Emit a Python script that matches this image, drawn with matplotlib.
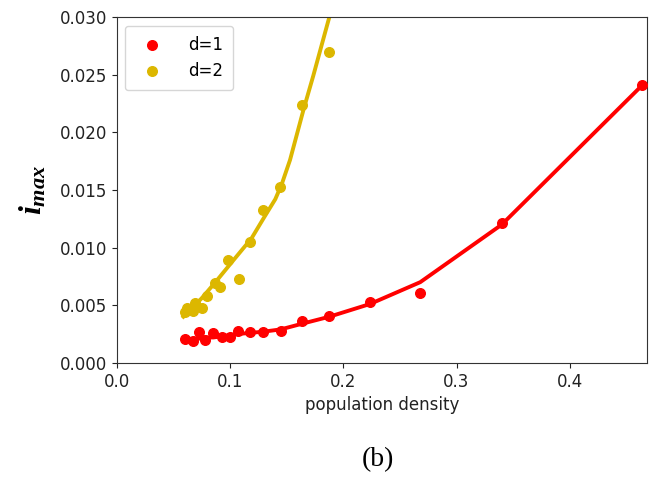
import matplotlib.pyplot as plt

# measured points, d=1
d1_x = [0.0604, 0.0677, 0.073, 0.078, 0.0854, 0.0928, 0.100, 0.107, 0.118, 0.1295,
        0.1448, 0.164, 0.1877, 0.2235, 0.268, 0.340, 0.464]
d1_y = [0.00205, 0.00185, 0.00271, 0.0020, 0.00257, 0.00223, 0.00223, 0.0028, 0.00271,
        0.00271, 0.0028, 0.00367, 0.00407, 0.0053, 0.0061, 0.0121, 0.0241]
# fitted line values at the d=1 points
d1_fit = [0.0020, 0.0021, 0.0021, 0.0022, 0.0022, 0.0023, 0.0024, 0.0025, 0.0026,
          0.0027, 0.0029, 0.0034, 0.0040, 0.0051, 0.0070, 0.0120, 0.0241]

# measured points, d=2
d2_x = [0.0604, 0.0619, 0.0677, 0.0692, 0.0751, 0.080, 0.0869, 0.0913, 0.0986,
        0.1083, 0.1177, 0.129, 0.1442, 0.1633, 0.1877]
d2_y = [0.0044, 0.0048, 0.0045, 0.0052, 0.0048, 0.0058, 0.0069, 0.0066, 0.0089,
        0.0073, 0.0105, 0.0133, 0.0153, 0.0224, 0.0270]
# fitted curve, d=2
d2_fit_x = [0.0589, 0.0619, 0.075, 0.088, 0.103, 0.119, 0.130, 0.140, 0.1457,
            0.153, 0.159, 0.165, 0.1735, 0.1824, 0.1877, 0.1905]
d2_fit_y = [0.0040, 0.0043, 0.0056, 0.0071, 0.0089, 0.0108, 0.0126, 0.0142, 0.0155,
            0.0176, 0.0198, 0.0220, 0.0249, 0.0281, 0.0300, 0.0310]

red = '#ff0000'
gold = '#dcb700'

plt.rcParams['mathtext.fontset'] = 'custom'
plt.rcParams['mathtext.it'] = 'Liberation Serif:italic:bold'
plt.rcParams['mathtext.rm'] = 'Liberation Serif:bold'

fig = plt.figure(figsize=(6.52, 4.78), dpi=100)
ax = fig.add_axes([0.179, 0.241, 0.813, 0.723])

ax.plot(d1_x, d1_fit, color=red, lw=2.8)
ax.plot(d2_fit_x, d2_fit_y, color=gold, lw=2.8)
ax.scatter(d1_x, d1_y, color=red, s=48, label='d=1', zorder=3)
ax.scatter(d2_x, d2_y, color=gold, s=48, label='d=2', zorder=3)

ax.set_xlim(0, 0.468)
ax.set_ylim(0, 0.030)
ax.set_yticks([0.000, 0.005, 0.010, 0.015, 0.020, 0.025, 0.030])
ax.set_yticklabels(['0.000', '0.005', '0.010', '0.015', '0.020', '0.025', '0.030'])
ax.set_xticks([0.0, 0.1, 0.2, 0.3, 0.4])
ax.tick_params(labelsize=12, colors='#222222')
for s in ax.spines.values():
    s.set_color('#333333')

ax.set_xlabel('population density', fontsize=12, color='#222222')
ax.set_ylabel(r'$i_{max}$', fontsize=23, labelpad=8)

ax.legend(loc='upper left', fontsize=12, handletextpad=1.2, borderpad=0.6)

fig.text(0.579, 0.038, '(b)', family='Liberation Serif', fontsize=20,
         ha='center', va='center')

plt.savefig('out.png', dpi=100)
